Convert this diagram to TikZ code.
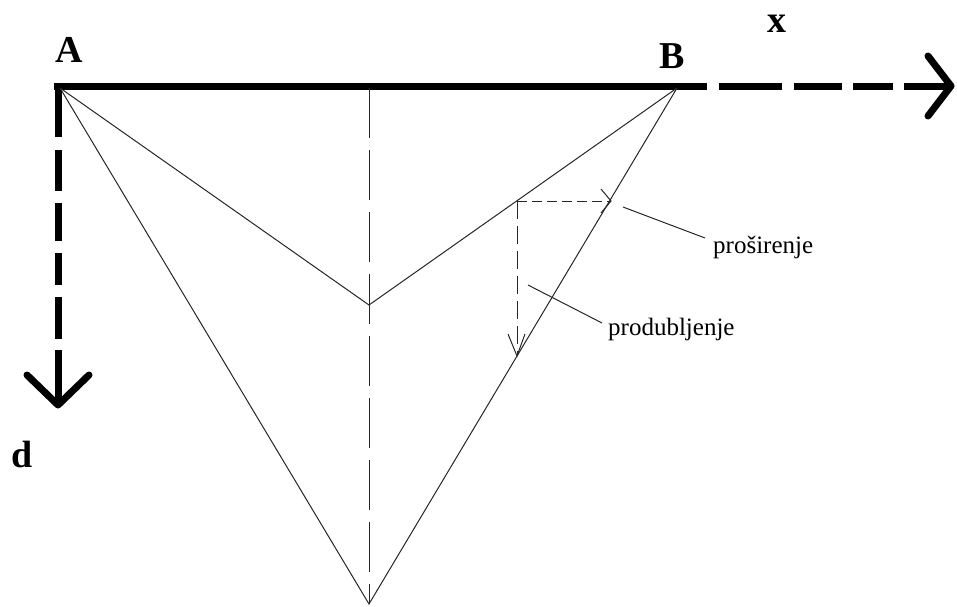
\documentclass[tikz,border=0pt]{standalone}
\usepackage{fontspec}
\setmainfont{Liberation Serif}
\begin{document}
\begin{tikzpicture}[x=1pt,y=-1pt,
  axis/.style={line width=7pt},
  armline/.style={line width=7pt, line cap=round, line join=round},
  thinline/.style={line width=1pt, draw=black!85},
  helper/.style={line width=1pt, draw=black!85},
  biglabel/.style={font=\fontsize{38}{40}\selectfont\bfseries, inner sep=0pt, anchor=base},
  smalllabel/.style={font=\fontsize{25}{27}\selectfont, inner sep=0pt, anchor=base west}]
\useasboundingbox (0,0) rectangle (957,606);
% key points
\coordinate (A) at (60,88);
\coordinate (B) at (677,88);
\coordinate (M) at (369,305);
\coordinate (D) at (369,604);
\coordinate (P) at (517,201);
\coordinate (Q) at (611,201);
\coordinate (R) at (517,356);
% axes
\coordinate (hx0) at (54,86);
\coordinate (hx1) at (951,86);
\coordinate (vy0) at (58,83);
\coordinate (vy1) at (58,405);
\draw[axis, dash pattern=on 653 off 12 on 63 off 12 on 48 off 11 on 40 off 11 on 200] (hx0) -- (hx1);
\draw[armline] (928,56) -- (hx1) -- (928,116);
\draw[axis, dash pattern=on 54 off 13 on 41 off 12 on 38 off 12 on 32 off 12 on 42 off 11 on 200] (vy0) -- (vy1);
\draw[armline] (27,375) -- (vy1) -- (89,375);
% centre line
\draw[thinline, dash pattern=on 50 off 12] (369,88) -- (D);
% profile lines
\draw[thinline] (A) -- (M) -- (B);
\draw[thinline] (A) -- (D) -- (B);
% widening / deepening arrows
\draw[helper, dash pattern=on 10 off 5] (P) -- (Q);
\draw[helper] (601,189) -- (Q) -- (601,213);
\draw[helper, dash pattern=on 18 off 7] (P) -- (R);
\draw[helper] (508,334) -- (R) -- (525,334);
% labels
\node[biglabel] (lA) at (69,62) {A};
\node[biglabel] (lB) at (672,68) {B};
\node[biglabel] (lx) at (777,32) {x};
\node[biglabel] (ld) at (22,467) {d};
\node[smalllabel] (lp) at (713,253) {proširenje};
\node[smalllabel] (lq) at (608,335) {produbljenje};
\coordinate (c1) at (623,207);
\coordinate (c2) at (705,238);
\coordinate (c3) at (528,285);
\coordinate (c4) at (602,323);
\draw[helper] (c1) -- (c2);
\draw[helper] (c3) -- (c4);
\end{tikzpicture}
\end{document}
